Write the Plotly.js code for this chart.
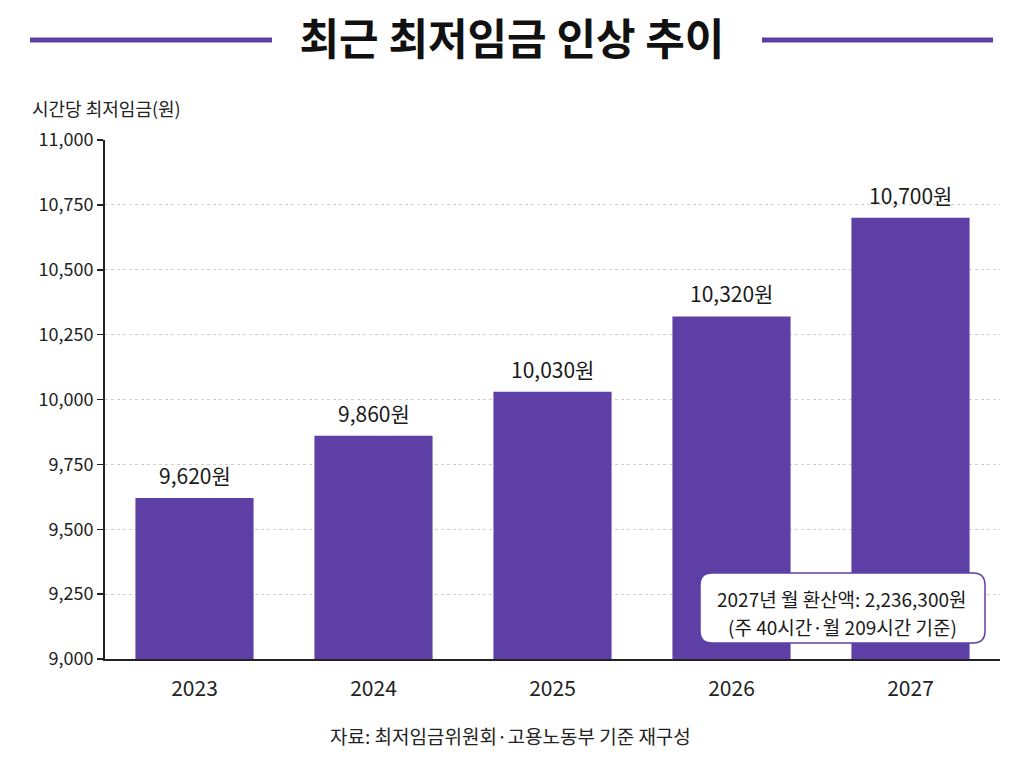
<!DOCTYPE html>
<html><head><meta charset="utf-8">
<script src="https://cdn.plot.ly/plotly-3.0.1.min.js"></script>
<style>html,body{margin:0;padding:0;background:#fff;}#chart{width:1024px;height:768px;}</style>
</head><body><div id="chart"></div>
<script>
const years = ['2023', '2024', '2025', '2026', '2027'];
const wages = [9620, 9860, 10030, 10320, 10700];
const barLabels = ['9,620원', '9,860원', '10,030원', '10,320원', '10,700원'];
const yTicks = [9000, 9250, 9500, 9750, 10000, 10250, 10500, 10750, 11000];
const titleText = '최근 최저임금 인상 추이';
const yAxisLabel = '시간당 최저임금(원)';
const noteLines = ['2027년 월 환산액: 2,236,300원', '(주 40시간·월 209시간 기준)'];
const sourceText = '자료: 최저임금위원회·고용노동부 기준 재구성';

const FONT = '"Noto Sans CJK KR", "Noto Sans", sans-serif';
const PURPLE = '#5e3fa6';
const L = 105, R = 24, T = 140, B = 109, W = 1024, H = 768;
const PW = W - L - R, PH = H - T - B;
const px = x => (x - L) / PW;
const py = y => (H - B - y) / PH;

function roundRect(x0, y0, x1, y1, r) {
  const X0 = px(x0), X1 = px(x1), Y0 = py(y1), Y1 = py(y0);
  const rx = r / PW, ry = r / PH;
  return `M ${X0+rx},${Y0} L ${X1-rx},${Y0} Q ${X1},${Y0} ${X1},${Y0+ry} L ${X1},${Y1-ry} Q ${X1},${Y1} ${X1-rx},${Y1} L ${X0+rx},${Y1} Q ${X0},${Y1} ${X0},${Y1-ry} L ${X0},${Y0+ry} Q ${X0},${Y0} ${X0+rx},${Y0} Z`;
}

const trace = {
  type: 'bar', x: years, y: wages,
  marker: {color: PURPLE, line: {width: 0}},
  hoverinfo: 'skip'
};

const annotations = years.map((yr, i) => ({
  x: i, y: wages[i], xref: 'x', yref: 'y',
  text: barLabels[i], showarrow: false, yanchor: 'bottom', yshift: 6,
  font: {family: FONT, size: 21, color: '#1a1a1a'}
}));
annotations.push({
  xref: 'paper', yref: 'paper', x: px(30), y: py(108), xanchor: 'left', yanchor: 'middle',
  text: yAxisLabel, showarrow: false, font: {family: FONT, size: 18, color: '#222'}
});
noteLines.forEach((t, i) => annotations.push({
  xref: 'paper', yref: 'paper', x: px(842), y: py(598 + 28 * i), xanchor: 'center', yanchor: 'middle',
  text: t, showarrow: false,
  font: {family: FONT, size: 19, color: '#1a1a1a'}
}));
annotations.push({
  xref: 'paper', yref: 'paper', x: px(510), y: py(735), xanchor: 'center', yanchor: 'middle',
  text: sourceText, showarrow: false, font: {family: FONT, size: 19, color: '#222'}
});

const shapes = [
  {type: 'line', xref: 'paper', yref: 'paper', x0: px(30), x1: px(272), y0: py(40), y1: py(40),
   line: {color: PURPLE, width: 5}},
  {type: 'line', xref: 'paper', yref: 'paper', x0: px(762), x1: px(993), y0: py(40), y1: py(40),
   line: {color: PURPLE, width: 5}},
  {type: 'path', xref: 'paper', yref: 'paper', path: roundRect(700, 573, 985, 643, 12),
   fillcolor: '#ffffff', line: {color: PURPLE, width: 1.5}, layer: 'above'}
];

const layout = {
  width: W, height: H,
  margin: {l: L, r: R, t: T, b: B, pad: 0},
  paper_bgcolor: '#fff', plot_bgcolor: '#fff',
  title: {text: '<b>' + titleText + '</b>', x: 0.5, xanchor: 'center', y: 1 - 40 / H, yanchor: 'middle',
          font: {family: FONT, size: 43, color: '#111'}},
  bargap: 0.34,
  showlegend: false,
  xaxis: {
    type: 'category', range: [-0.5, 4.5],
    showline: true, linecolor: '#222', linewidth: 2,
    ticks: '', showgrid: false, zeroline: false,
    tickfont: {family: FONT, size: 21, color: '#222'}, ticklabelstandoff: 10
  },
  yaxis: {
    range: [9000, 11000], tickvals: yTicks, tickformat: ',',
    showline: true, linecolor: '#222', linewidth: 2,
    ticks: 'outside', ticklen: 6, tickcolor: '#222', tickwidth: 1.5,
    showgrid: true, gridcolor: '#cfcfcf', griddash: 'dot', gridwidth: 1,
    zeroline: false,
    tickfont: {family: FONT, size: 18, color: '#222'}
  },
  shapes: shapes,
  annotations: annotations
};

Plotly.newPlot('chart', [trace], layout, {displayModeBar: false, staticPlot: true});
</script>
</body></html>
